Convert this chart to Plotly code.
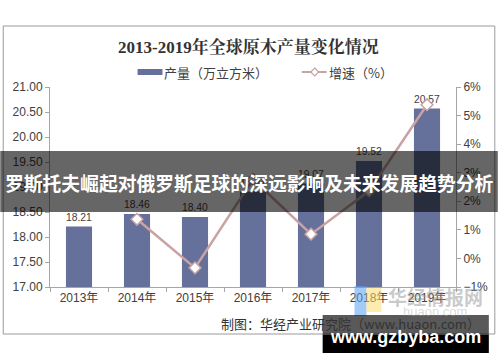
import plotly.graph_objects as go

years = ["2013年", "2014年", "2015年", "2016年", "2017年", "2018年", "2019年"]
output = [18.21, 18.46, 18.40, 18.91, 19.07, 19.52, 20.57]
growth_years = ["2014年", "2015年", "2016年", "2017年", "2018年", "2019年"]
growth = [1.37, -0.33, 2.77, 0.85, 2.36, 5.38]

title_text = "2013-2019年全球原木产量变化情况"
bar_name = "产量（万立方米）"
line_name = "增速（%）"
source_text = "制图：华经产业研究院（www.huaon.com）"
banner_text = "罗斯托夫崛起对俄罗斯足球的深远影响及未来发展趋势分析"
wm_text = "华经情报网"
wm_sub = "huaon.com"
site_text = "www.gzbyba.com"

BAR_C = "#65709b"
LINE_C = "#c9a3a3"
FONT = "Liberation Sans, Arial, Noto Sans CJK SC"
CJK = "Noto Sans CJK SC"
SERIF = "Liberation Serif, Noto Serif CJK SC, Noto Sans CJK SC"

W, H = 500, 362
L, R, T, B = 50, 458, 87, 287

def px(x):
    return (x - L) / (R - L)

def py(y):
    return (B - y) / (B - T)

fig = go.Figure()
fig.add_trace(go.Bar(
    x=years, y=output, marker=dict(color=BAR_C, line=dict(width=0)),
    text=[f"{v:.2f}" for v in output], textposition="outside",
    textfont=dict(size=12, color="#404040", family=FONT),
    cliponaxis=False, name=bar_name, showlegend=False,
))
fig.add_trace(go.Scatter(
    x=growth_years, y=growth, yaxis="y2", mode="lines+markers",
    line=dict(color=LINE_C, width=2.5),
    marker=dict(symbol="diamond", size=9, color="white",
                line=dict(color=LINE_C, width=1.5)),
    name=line_name, showlegend=False, cliponaxis=False,
))

shapes = []
annotations = []

# chart frame
shapes.append(dict(type="rect", xref="paper", yref="paper",
                   x0=px(3), x1=px(497), y0=py(26), y1=py(334),
                   line=dict(color="#9a9a9a", width=1), fillcolor="rgba(0,0,0,0)",
                   layer="below"))
# title
annotations.append(dict(text=f"<b>{title_text}</b>", xref="paper", yref="paper",
                        x=px(249), y=py(47), showarrow=False,
                        font=dict(size=17, color="#333", family=SERIF),
                        xanchor="center", yanchor="middle"))
# legend
shapes.append(dict(type="rect", xref="paper", yref="paper",
                   x0=px(138), x1=px(163), y0=py(69), y1=py(75),
                   fillcolor=BAR_C, line=dict(width=0)))
annotations.append(dict(text=bar_name, xref="paper", yref="paper",
                        x=px(163), y=py(72), showarrow=False, xanchor="left",
                        yanchor="middle", font=dict(size=13, color="#404040", family=CJK)))
shapes.append(dict(type="line", xref="paper", yref="paper",
                   x0=px(303), x1=px(328), y0=py(72), y1=py(72),
                   line=dict(color=LINE_C, width=2)))
shapes.append(dict(type="path", xref="paper", yref="paper",
                   path=f"M {px(316)},{py(68)} L {px(320)},{py(72)} L {px(316)},{py(76)} L {px(312)},{py(72)} Z",
                   fillcolor="white", line=dict(color=LINE_C, width=1.2)))
annotations.append(dict(text=line_name, xref="paper", yref="paper",
                        x=px(328), y=py(72), showarrow=False, xanchor="left",
                        yanchor="middle", font=dict(size=13, color="#404040", family=CJK)))
# source
annotations.append(dict(text=source_text, xref="paper", yref="paper",
                        x=px(484), y=py(323), showarrow=False, xanchor="right",
                        yanchor="middle", font=dict(size=13, color="#333", family=CJK)))
# watermark logo
shapes.append(dict(type="rect", xref="paper", yref="paper",
                   x0=px(356), x1=px(368), y0=py(286), y1=py(316),
                   fillcolor="rgba(90,160,240,0.55)", line=dict(width=0)))
shapes.append(dict(type="rect", xref="paper", yref="paper",
                   x0=px(368), x1=px(383), y0=py(288), y1=py(312),
                   fillcolor="rgba(250,220,110,0.55)", line=dict(width=0)))
annotations.append(dict(text=f"<b>{wm_text}</b>", xref="paper", yref="paper",
                        x=px(437), y=py(296), showarrow=False, xanchor="center",
                        yanchor="middle", font=dict(size=19, color="rgba(150,150,150,0.5)", family=CJK)))
annotations.append(dict(text=wm_sub, xref="paper", yref="paper",
                        x=px(437), y=py(311), showarrow=False, xanchor="center",
                        yanchor="middle", font=dict(size=13, color="rgba(170,170,170,0.45)", family=FONT)))
# banner
shapes.append(dict(type="rect", xref="paper", yref="paper",
                   x0=px(0), x1=px(500), y0=py(151), y1=py(212),
                   fillcolor="rgba(0,0,0,0.6)", line=dict(width=0), layer="above"))
annotations.append(dict(text=f"<b>{banner_text}</b>", xref="paper", yref="paper",
                        x=px(250), y=py(182), showarrow=False, xanchor="center",
                        yanchor="middle", font=dict(size=18.8, color="white", family=CJK)))
# site box
shapes.append(dict(type="rect", xref="paper", yref="paper",
                   x0=px(324), x1=px(491), y0=py(315), y1=py(335),
                   fillcolor="rgba(0,0,0,0.65)", line=dict(width=0), layer="above"))
shapes.append(dict(type="rect", xref="paper", yref="paper",
                   x0=px(324), x1=px(491), y0=py(335), y1=py(353),
                   fillcolor="black", line=dict(width=0), layer="above"))
annotations.append(dict(text=f"<b>{site_text}</b>", xref="paper", yref="paper",
                        x=px(407), y=py(337), showarrow=False, xanchor="center",
                        yanchor="middle", font=dict(size=18, color="white", family=FONT)))

fig.update_layout(
    width=W, height=H,
    margin=dict(l=L, r=W - R, t=T, b=H - B, pad=0),
    paper_bgcolor="white", plot_bgcolor="white",
    bargap=0.55, showlegend=False,
    shapes=shapes, annotations=annotations,
    xaxis=dict(type="category", showline=True, linecolor="#a6a6a6", linewidth=1,
               ticks="outside", tickson="boundaries", ticklen=4, tickcolor="#a6a6a6",
               tickfont=dict(size=12, color="#404040", family=FONT),
               showgrid=False, zeroline=False),
    yaxis=dict(range=[17, 21], dtick=0.5, tickformat=".2f", showline=True,
               linecolor="#a6a6a6", ticks="outside", ticklen=4, tickcolor="#a6a6a6",
               tickfont=dict(size=12, color="#404040", family=FONT),
               showgrid=False, zeroline=False),
    yaxis2=dict(range=[-1, 6], dtick=1, ticksuffix="%", overlaying="y", side="right",
                showline=True, linecolor="#a6a6a6", ticks="outside", ticklen=4,
                tickcolor="#a6a6a6", tickfont=dict(size=12, color="#404040", family=FONT),
                showgrid=False, zeroline=False),
)

fig.write_html("out.html", config={"displayModeBar": False},
               post_script="document.body.style.margin='0';")
